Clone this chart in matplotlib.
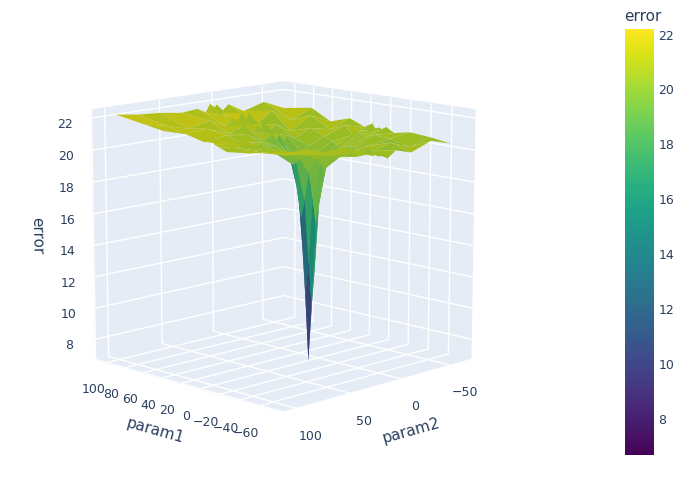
import matplotlib.pyplot as plt
import numpy as np
from matplotlib import cm
from matplotlib.colors import Normalize

param1 = [-70, -50, -30, -15, -7, -3, 0, 3, 7, 15, 30, 50, 70, 100]
param2 = [-60, -40, -20, -5, 3, 7, 10, 13, 17, 25, 40, 60, 80, 100]

# rows follow param1, columns follow param2
error = [
    [20.4, 20.8, 20.3, 20.6, 20.2, 20.5, 20.4, 20.7, 20.5, 20.8, 20.9, 21.0, 21.3, 21.5],
    [20.6, 20.2, 20.7, 20.4, 20.6, 20.3, 20.5, 20.2, 20.6, 20.9, 20.7, 21.1, 21.2, 21.4],
    [20.7, 20.5, 20.3, 20.2, 20.1, 20.0, 19.9, 20.0, 20.2, 20.4, 20.8, 20.6, 21.0, 21.2],
    [20.5, 20.6, 20.1, 19.9, 19.6, 19.3, 19.0, 19.4, 19.7, 20.0, 20.4, 20.9, 20.8, 21.1],
    [20.8, 20.4, 20.0, 19.6, 18.5, 16.8, 15.5, 17.2, 18.8, 19.7, 20.3, 20.6, 21.0, 21.3],
    [20.6, 20.5, 19.9, 19.3, 16.5, 12.5, 10.5, 13.0, 17.0, 19.5, 20.2, 20.9, 21.2, 21.4],
    [20.7, 20.6, 19.8, 19.1, 15.0, 10.0, 6.7, 10.8, 15.8, 19.3, 20.1, 21.0, 21.3, 21.6],
    [20.5, 20.7, 20.0, 19.4, 16.8, 13.2, 11.0, 13.8, 17.3, 19.6, 20.4, 20.8, 21.1, 21.5],
    [20.9, 20.4, 20.2, 19.7, 18.7, 17.0, 16.0, 17.5, 18.9, 19.8, 20.5, 21.0, 21.3, 21.7],
    [20.6, 20.9, 20.4, 20.0, 19.7, 19.4, 19.2, 19.5, 19.8, 20.2, 20.7, 20.9, 21.2, 21.6],
    [21.0, 20.5, 20.8, 20.3, 20.6, 20.2, 20.7, 20.4, 20.8, 20.5, 21.0, 21.2, 21.0, 21.8],
    [20.6, 21.2, 20.4, 21.0, 20.5, 21.3, 20.6, 21.1, 20.7, 21.2, 20.9, 21.4, 21.3, 21.7],
    [21.3, 20.7, 21.5, 20.8, 21.6, 20.6, 21.7, 20.9, 21.4, 21.0, 21.5, 21.2, 21.6, 21.9],
    [21.0, 21.6, 21.2, 21.8, 21.3, 21.9, 21.4, 22.0, 21.5, 21.8, 21.7, 21.9, 22.0, 22.2],
]

X, Y = np.meshgrid(param1, param2, indexing="ij")
Z = np.array(error)
norm = Normalize(vmin=6.7, vmax=22.2)
cmap = plt.get_cmap("viridis")

# slightly dim the colours to mimic the lit look of the original
colors = cmap(norm(Z))
colors[..., :3] *= 0.85

fig = plt.figure(figsize=(6.94, 4.84), dpi=100)
ax = fig.add_axes([0.08, 0.0, 0.64, 1.0], projection="3d")
ax.plot_surface(X, Y, Z, facecolors=colors, linewidth=0, antialiased=True,
                rstride=1, cstride=1, shade=False)
ax.view_init(elev=12, azim=135)
ax.set_box_aspect((1, 1, 0.95))

pane = (0.898, 0.925, 0.965, 1.0)
for axis in (ax.xaxis, ax.yaxis, ax.zaxis):
    axis.set_pane_color(pane)
    axis._axinfo["grid"]["color"] = "white"
    axis._axinfo["grid"]["linewidth"] = 1.0
    axis._axinfo["tick"]["inward_factor"] = 0.0
    axis._axinfo["tick"]["outward_factor"] = 0.0
    axis.line.set_color("white")
ax.zaxis._axinfo["juggled"] = (1, 2, 0)
ax.tick_params(colors="#2a3f5f", labelsize=9)
ax.set_xticks([-60, -40, -20, 0, 20, 40, 60, 80, 100])
ax.set_yticks([-50, 0, 50, 100])
ax.set_zticks([8, 10, 12, 14, 16, 18, 20, 22])
ax.set_xlabel("param1", color="#2a3f5f", fontsize=11)
ax.set_ylabel("param2", color="#2a3f5f", fontsize=11)
ax.set_zlabel("error", color="#2a3f5f", fontsize=11)
ax.set_zlim(6.7, 22.5)

cax = fig.add_axes([0.9, 0.06, 0.042, 0.88])
cb = fig.colorbar(cm.ScalarMappable(norm=norm, cmap=cmap), cax=cax)
cb.outline.set_visible(False)
cb.ax.tick_params(colors="#2a3f5f", labelsize=9, length=0)
cb.set_ticks([8, 10, 12, 14, 16, 18, 20, 22])
cb.ax.set_title("error", color="#2a3f5f", fontsize=11, loc="left")

fig.savefig("out.png")
